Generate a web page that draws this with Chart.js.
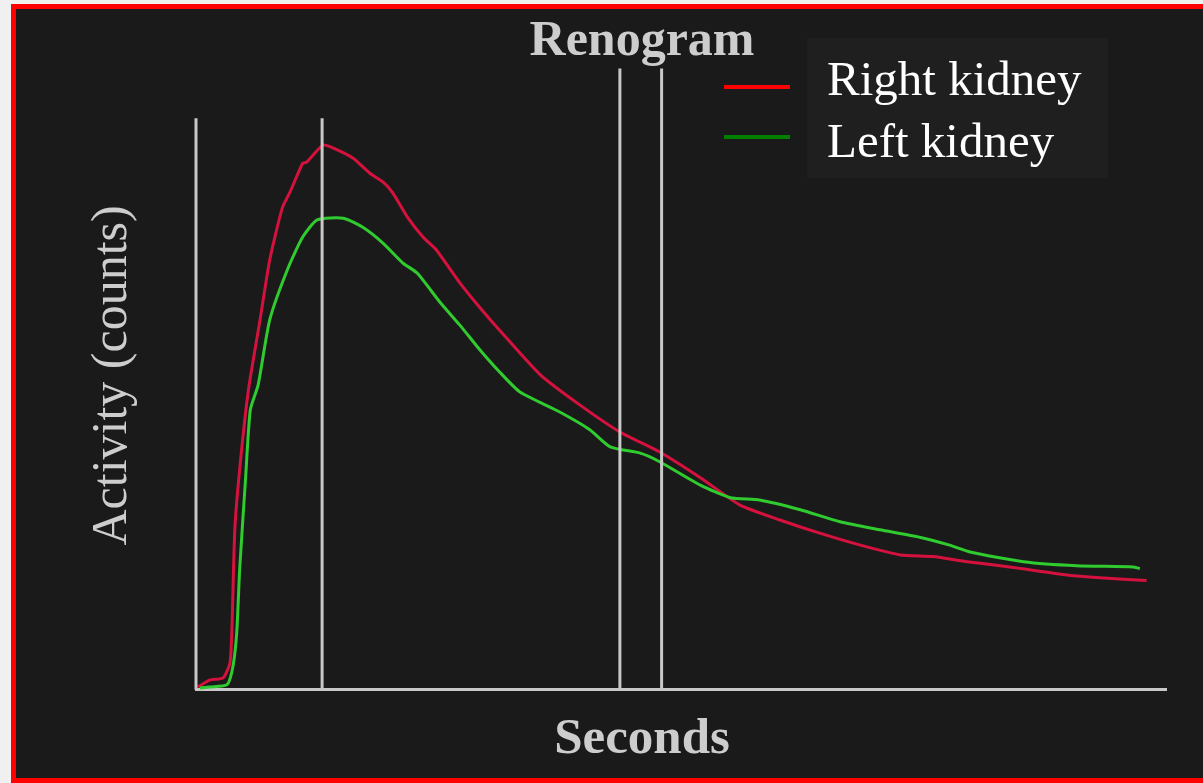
<!DOCTYPE html>
<html>
<head>
<meta charset="utf-8">
<script src="https://cdn.jsdelivr.net/npm/chart.js@4.4.1/dist/chart.umd.min.js"></script>
<style>
  html, body { margin: 0; padding: 0; background: #f0f0f0; overflow: hidden; width: 1203px; height: 783px; }
  #frame {
    position: absolute; left: 11px; top: 4px;
    width: 1250px; height: 769px;
    border: 5px solid #ff0000;
    background: #1b1a1a;
    overflow: hidden;
  }
  #renogram { position: absolute; left: 0; top: 0; }
  .legend-box { position: absolute; left: 807px; top: 38px; width: 301px; height: 140px; background: #201f1f; }
  .legend-line { position: absolute; left: 724px; width: 66px; height: 4px; }
  .legend-text {
    position: absolute; left: 827px;
    font-family: 'Liberation Serif', serif; font-size: 49px; line-height: 49px;
    color: #ffffff; white-space: nowrap;
  }
</style>
</head>
<body>
<div id="frame">
  <canvas id="renogram" width="1252" height="769"></canvas>
</div>
<div class="legend-box"></div>
<div id="legend"></div>

<script>
// Data: seconds vs activity counts
const rightSec = [2, 14, 28, 35, 37, 40, 45, 54, 66, 76, 89, 97, 110, 114, 131, 141, 162, 179, 193, 203,
  218, 234, 248, 272, 293, 313, 355, 396, 437, 478, 520, 561, 602, 643, 685, 726, 760, 795, 839, 898, 932, 980];
const rightCounts = [0.5, 1.7, 2.1, 4.7, 10.5, 28, 38.5, 52.4, 64.7, 75.2, 84.3, 87.1, 92.1, 92.3, 95.3, 94.8, 93, 90.4, 88.8, 86.9,
  82.7, 79.2, 76.9, 71.2, 66.8, 62.9, 55.1, 49.8, 45.1, 41.6, 37.1, 32.3, 29.7, 27.4, 25.3, 23.6, 23.3, 22.4, 21.5, 20.1, 19.6, 19.1];

const leftSec = [4, 14, 32, 38, 42, 45, 51, 56, 64, 76, 94, 110, 125, 152, 172, 193, 213, 228, 252, 272,
  293, 313, 334, 375, 406, 427, 458, 478, 520, 551, 581, 623, 664, 705, 746, 777, 798, 853, 908, 966, 973];
const leftCounts = [0.3, 0.5, 0.9, 4, 10, 21, 36.7, 49, 53.3, 64.7, 73.4, 79.2, 82.2, 82.5, 80.9, 78.1, 74.7, 72.9, 67.7, 63.8,
  59.4, 55.6, 52.1, 48.6, 45.5, 42.5, 41.4, 39.9, 35.8, 33.6, 33.2, 31.5, 29.4, 28, 26.7, 25.3, 24.1, 22.4, 21.7, 21.5, 21.2];

// vertical guide lines (the first one is the y axis itself)
const markerSec = [0, 130, 437, 480];
const markerTop = [100, 100, 108.7, 108.7];

const seriesNames = ['Right kidney', 'Left kidney'];
const legendColors = ['#ff0000', '#008000'];

const colors = {
    right: '#d5123e',
    left: '#2fcb2f',
    guide: '#c8c8c8',
    text: '#cdcdcd'
};

const toPoints = (xs, ys) => xs.map((x, i) => ({ x: x, y: ys[i] }));

const markerSets = markerSec.map((s, i) => ({
    label: 'guide' + i,
    data: [{ x: s, y: 0 }, { x: s, y: markerTop[i] }],
    borderColor: colors.guide,
    borderWidth: 3,
    pointRadius: 0,
    clip: false,
    order: 0
}));

new Chart(document.getElementById('renogram'), {
    type: 'line',
    data: {
        datasets: [
            {
                label: seriesNames[0],
                data: toPoints(rightSec, rightCounts),
                borderColor: colors.right,
                borderWidth: 3,
                pointRadius: 0,
                tension: 0.2,
                clip: false,
                order: 2
            },
            {
                label: seriesNames[1],
                data: toPoints(leftSec, leftCounts),
                borderColor: colors.left,
                borderWidth: 3,
                pointRadius: 0,
                tension: 0.2,
                clip: false,
                order: 1
            },
            ...markerSets
        ]
    },
    options: {
        responsive: false,
        animation: false,
        // equal side padding keeps the full-width title centred where the reference has it
        layout: { padding: { left: 102, right: 102, top: 0, bottom: 0 } },
        scales: {
            x: {
                type: 'linear',
                min: 0,
                max: 1000,
                ticks: { display: false },
                grid: { display: false, drawTicks: false },
                border: { display: true, color: colors.guide, width: 3 }
            },
            y: {
                min: 0,
                max: 110,
                ticks: { display: false },
                grid: { display: false, drawTicks: false },
                border: { display: false },
                title: {
                    display: true,
                    text: 'Activity (counts)',
                    color: colors.text,
                    font: { family: 'Liberation Serif', size: 50 },
                    padding: { top: -35, bottom: 53 }
                }
            }
        },
        plugins: {
            legend: { display: false },
            tooltip: { enabled: false },
            title: {
                display: true,
                text: 'Renogram',
                color: colors.text,
                font: { family: 'Liberation Serif', size: 50, weight: 'bold', lineHeight: 0.88 },
                padding: { top: 11, bottom: -3 }
            },
            subtitle: {
                display: true,
                position: 'bottom',
                text: 'Seconds',
                color: colors.text,
                font: { family: 'Liberation Serif', size: 51, weight: 'bold', lineHeight: 1.2 },
                padding: { top: 19, bottom: 8 }
            }
        }
    }
});

// HTML legend, top right
const legendEl = document.getElementById('legend');
seriesNames.forEach((name, i) => {
    const line = document.createElement('div');
    line.className = 'legend-line';
    line.style.top = (85 + i * 50) + 'px';
    line.style.background = legendColors[i];
    legendEl.appendChild(line);
    const txt = document.createElement('div');
    txt.className = 'legend-text';
    txt.style.top = (54 + i * 62) + 'px';
    txt.textContent = name;
    legendEl.appendChild(txt);
});
</script>
</body>
</html>
